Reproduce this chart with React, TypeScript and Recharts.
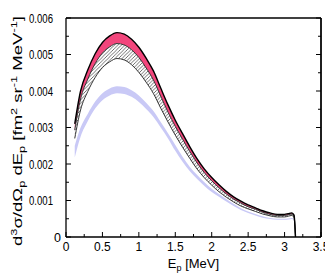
import React from 'react';
import { ComposedChart, Area, Line, XAxis, YAxis, ReferenceLine } from 'recharts';

const energies = [0.12, 0.2, 0.3, 0.4, 0.5, 0.6, 0.7, 0.8, 0.9, 1.0, 1.1, 1.2, 1.3, 1.4, 1.5, 1.6, 1.7, 1.8, 1.9, 2.0, 2.1, 2.2, 2.3, 2.4, 2.5, 2.6, 2.7, 2.8, 2.9, 3.0, 3.05, 3.1, 3.13, 3.15];
const totalUpper = [0.0031, 0.0040, 0.00458, 0.00502, 0.00533, 0.00551, 0.0056, 0.00556, 0.00542, 0.0052, 0.0049, 0.00455, 0.00408, 0.00362, 0.0032, 0.00283, 0.00247, 0.00214, 0.00186, 0.00163, 0.00143, 0.00125, 0.0011, 0.00098, 0.00088, 0.0008, 0.00072, 0.00066, 0.00062, 0.00062, 0.00064, 0.00066, 0.0006, 0];
const pinkLower = [0.00293, 0.00378, 0.00433, 0.00475, 0.00504, 0.00521, 0.0053, 0.00526, 0.00513, 0.00492, 0.00463, 0.0043, 0.00386, 0.00342, 0.00303, 0.00268, 0.00234, 0.00203, 0.00176, 0.00154, 0.00135, 0.00118, 0.00104, 0.00093, 0.00083, 0.00076, 0.00068, 0.00062, 0.00059, 0.00059, 0.00061, 0.00063, 0.00057, 0];
const hatchLower = [0.0027, 0.00348, 0.00399, 0.00437, 0.00464, 0.0048, 0.00489, 0.00485, 0.00472, 0.00451, 0.00424, 0.00393, 0.00353, 0.00315, 0.00279, 0.00246, 0.00215, 0.00186, 0.00162, 0.00142, 0.00124, 0.00109, 0.00096, 0.00085, 0.00077, 0.0007, 0.00063, 0.00058, 0.00055, 0.00055, 0.00057, 0.00059, 0.00053, 0];
const blueUpper = [0.0025, 0.0030, 0.00338, 0.00371, 0.00394, 0.00407, 0.00413, 0.00411, 0.00402, 0.00388, 0.00368, 0.00345, 0.00315, 0.00284, 0.00252, 0.0022, 0.00192, 0.0017, 0.0015, 0.00132, 0.00118, 0.00104, 0.00091, 0.00079, 0.0007, 0.00063, 0.00057, 0.00052, 0.0005, 0.0005, 0.00051, 0.00052, 0.00047, 0];
const blueLower = [0.00218, 0.00275, 0.00318, 0.00352, 0.00375, 0.00388, 0.00394, 0.00392, 0.00384, 0.0037, 0.00351, 0.00329, 0.003, 0.0027, 0.00236, 0.00206, 0.0018, 0.00159, 0.0014, 0.00123, 0.0011, 0.00097, 0.00085, 0.00074, 0.00066, 0.00059, 0.00053, 0.00049, 0.00047, 0.00047, 0.00048, 0.00049, 0.00044, 0];

const xTicks = [0, 0.25, 0.5, 0.75, 1, 1.25, 1.5, 1.75, 2, 2.25, 2.5, 2.75, 3, 3.25, 3.5];
const yTicks = [0, 0.0005, 0.001, 0.0015, 0.002, 0.0025, 0.003, 0.0035, 0.004, 0.0045, 0.005, 0.0055, 0.006];
const xMax = 3.5;
const yMax = 0.006;

const data = energies.map((e, i) => ({
  e,
  top: totalUpper[i],
  pink: [pinkLower[i], totalUpper[i]],
  hatch: [hatchLower[i], pinkLower[i]],
  blue: [blueLower[i], blueUpper[i]],
}));

const isMajorX = (v: number) => Math.abs(v * 2 - Math.round(v * 2)) < 1e-6;
const isMajorY = (v: number) => Math.abs(v * 1000 - Math.round(v * 1000)) < 1e-6;

const FONT = "'Liberation Sans', Arial, sans-serif";

const BottomTick = (p: any) => {
  const { x, y, payload } = p;
  const major = isMajorX(payload.value);
  return (
    <g>
      <line x1={x} x2={x} y1={y} y2={y - (major ? 5 : 3)} stroke="#000" strokeWidth={1} />
      {major && (
        <text x={x} y={y + 14} textAnchor="middle" fontSize={12} fontFamily={FONT} fill="#000">
          {String(payload.value)}
        </text>
      )}
    </g>
  );
};

const TopTick = (p: any) => {
  const { x, y, payload } = p;
  const major = isMajorX(payload.value);
  return <line x1={x} x2={x} y1={y} y2={y + (major ? 5 : 3)} stroke="#000" strokeWidth={1} />;
};

const LeftTick = (p: any) => {
  const { x, y, payload } = p;
  const v = payload.value;
  const major = isMajorY(v);
  const label = v === 0 ? '0' : v.toFixed(3);
  return (
    <g>
      <line x1={x} x2={x + (major ? 5 : 3)} y1={y} y2={y} stroke="#000" strokeWidth={1} />
      {major && (v === 0 ? (
        <text x={x - 5} y={y + 4.5} textAnchor="end" fontSize={12.5} fontFamily={FONT} fill="#000">
          {label}
        </text>
      ) : (
        <text
          x={x - 37}
          y={y + 4.5}
          textAnchor="start"
          fontSize={12.5}
          fontFamily={FONT}
          fill="#000"
          textLength={24}
          lengthAdjust="spacingAndGlyphs"
        >
          {label}
        </text>
      ))}
    </g>
  );
};

const RightTick = (p: any) => {
  const { x, y, payload } = p;
  const major = isMajorY(payload.value);
  return <line x1={x} x2={x - (major ? 5 : 3)} y1={y} y2={y} stroke="#000" strokeWidth={1} />;
};

const YTitle = () => (
  <text
    transform="translate(14,238) rotate(-90)"
    textAnchor="start"
    fontSize={13}
    fontFamily={FONT}
    fill="#000"
    textLength={230}
    lengthAdjust="spacingAndGlyphs"
  >
    d<tspan dy={-5} fontSize={9}>3</tspan>
    <tspan dy={5}>σ/dΩ</tspan>
    <tspan dy={3} fontSize={9}>p</tspan>
    <tspan dy={-3}>{' dE'}</tspan>
    <tspan dy={3} fontSize={9}>p</tspan>
    <tspan dy={-3}>{' [fm'}</tspan>
    <tspan dy={-5} fontSize={9}>2</tspan>
    <tspan dy={5}>{' sr'}</tspan>
    <tspan dy={-5} fontSize={9}>-1</tspan>
    <tspan dy={5}>{' MeV'}</tspan>
    <tspan dy={-5} fontSize={9}>-1</tspan>
    <tspan dy={5}>]</tspan>
  </text>
);

const XTitle = (p: any) => {
  const vb = p.viewBox || {};
  const cx = (vb.x ?? 58) + (vb.width ?? 255) / 2;
  return (
    <text x={cx} y={260} textAnchor="middle" fontSize={13} fontFamily={FONT} fill="#000">
      E<tspan dy={3} fontSize={9}>p</tspan>
      <tspan dy={-3}>{' [MeV]'}</tspan>
    </text>
  );
};

export default function App() {
  return (
    <div style={{ width: 325, height: 270 }}>
      <style>{'html{overflow:hidden}'}</style>
      <ComposedChart
        width={325}
        height={270}
        data={data}
        margin={{ top: 10, right: 11, bottom: 0, left: 0 }}
        style={{ overflow: 'visible' }}
      >
        <defs>
          <pattern id="hatch" patternUnits="userSpaceOnUse" width={3.5} height={3.5}>
            <rect width={3.5} height={3.5} fill="#fff" />
            <path d="M-1,1 L1,-1 M0,3.5 L3.5,0 M2.5,4.5 L4.5,2.5" stroke="#333" strokeWidth={0.7} />
          </pattern>
        </defs>
        <XAxis
          dataKey="e"
          type="number"
          domain={[0, xMax]}
          ticks={xTicks}
          interval={0}
          height={41}
          tickSize={0}
          tickMargin={0}
          tickLine={false}
          axisLine={{ stroke: '#000', strokeWidth: 1.3 }}
          tick={<BottomTick />}
          label={{ content: <XTitle /> }}
          allowDataOverflow
        />
        <XAxis
          xAxisId="top"
          orientation="top"
          dataKey="e"
          type="number"
          domain={[0, xMax]}
          ticks={xTicks}
          interval={0}
          height={0}
          tickSize={0}
          tickMargin={0}
          tickLine={false}
          axisLine={{ stroke: '#000', strokeWidth: 1.3 }}
          tick={<TopTick />}
          allowDataOverflow
        />
        <YAxis
          type="number"
          domain={[0, yMax]}
          ticks={yTicks}
          interval={0}
          width={58}
          tickSize={0}
          tickMargin={0}
          tickLine={false}
          axisLine={{ stroke: '#000', strokeWidth: 1.3 }}
          tick={<LeftTick />}
          label={{ content: <YTitle /> }}
          allowDataOverflow
        />
        <YAxis
          yAxisId="right"
          orientation="right"
          type="number"
          domain={[0, yMax]}
          ticks={yTicks}
          interval={0}
          width={1}
          tickSize={0}
          tickMargin={0}
          tickLine={false}
          axisLine={{ stroke: '#000', strokeWidth: 1.3 }}
          tick={<RightTick />}
          allowDataOverflow
        />
        <Area dataKey="blue" type="monotone" fill="#c9c9f6" fillOpacity={1} stroke="none" isAnimationActive={false} />
        <Area dataKey="pink" type="monotone" fill="#f2467c" fillOpacity={1} stroke="none" isAnimationActive={false} />
        <Area dataKey="hatch" type="monotone" fill="url(#hatch)" fillOpacity={1} stroke="#222" strokeWidth={0.9} isAnimationActive={false} />
        <Line yAxisId="right" xAxisId="top" dataKey="top" type="monotone" stroke="#000" strokeWidth={1.4} dot={false} isAnimationActive={false} />
        <ReferenceLine x={xMax} stroke="#000" strokeWidth={1.3} ifOverflow="extendDomain" />
        <ReferenceLine y={yMax} stroke="#000" strokeWidth={1.3} ifOverflow="extendDomain" />
      </ComposedChart>
    </div>
  );
}
